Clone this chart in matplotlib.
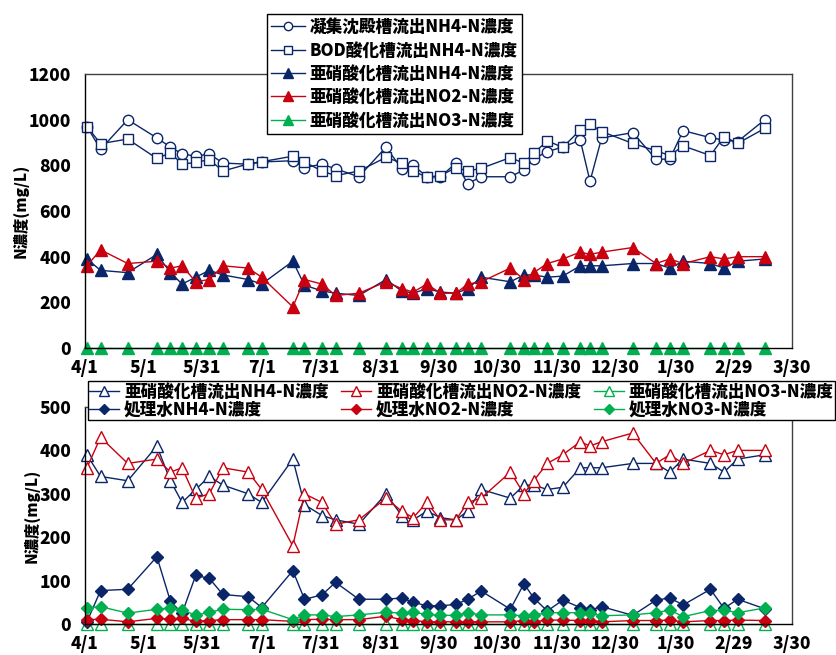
import matplotlib
matplotlib.use('Agg')
import matplotlib.pyplot as plt
from matplotlib.font_manager import FontProperties

# 採水日（4/1からの経過日数）
sample_day = [1, 8, 22, 37, 44, 50, 57, 64, 71, 84,
              91, 107, 113, 122, 129, 141, 155, 163, 169, 176,
              183, 191, 197, 204, 219, 226, 231, 238, 246, 255,
              260, 266, 282, 294, 301, 308, 322, 329, 336, 350]

# 目盛り
x_tick_day = [0, 30, 60, 91, 121, 152, 182, 212, 243, 273, 304, 334, 364]
x_tick_label = ['4/1', '5/1', '5/31', '7/1', '7/31', '8/31', '9/30',
                '10/30', '11/30', '12/30', '1/30', '2/29', '3/30']
y_top_ticks = [0, 200, 400, 600, 800, 1000, 1200]
y_bottom_ticks = [0, 100, 200, 300, 400, 500]

# 凝集沈殿槽流出 NH4-N
coag_nh4 = [970, 870, 1000, 920, 880, 850, 840, 850, 810, 805,
            815, 820, 790, 805, 785, 750, 880, 785, 800, 750,
            750, 810, 720, 750, 750, 780, 828, 860, 880, 910,
            730, 920, 943, 827, 827, 952, 921, 911, 904, 1000]
# BOD酸化槽流出 NH4-N
bod_nh4 = [970, 895, 915, 830, 855, 805, 813, 825, 775, 806,
           816, 840, 815, 775, 755, 775, 835, 810, 775, 748,
           755, 790, 775, 787, 834, 809, 853, 907, 879, 955,
           980, 948, 896, 864, 843, 885, 843, 926, 896, 962]
# 亜硝酸化槽流出
nit_nh4 = [390, 340, 330, 410, 330, 280, 310, 340, 320, 300,
           280, 380, 275, 250, 240, 230, 300, 250, 240, 260,
           245, 240, 260, 310, 290, 320, 320, 310, 315, 360,
           360, 360, 370, 370, 350, 380, 370, 350, 380, 390]
nit_no2 = [360, 430, 370, 380, 350, 360, 290, 300, 360, 350,
           310, 180, 300, 280, 230, 240, 290, 260, 245, 280,
           240, 240, 280, 290, 350, 300, 330, 370, 390, 420,
           410, 420, 440, 370, 390, 370, 400, 390, 400, 400]
nit_no3 = [0, 0, 0, 0, 0, 0, 0, 0, 0, 0,
           0, 0, 0, 0, 0, 0, 0, 0, 0, 0,
           0, 0, 0, 0, 0, 0, 0, 0, 0, 0,
           0, 0, 0, 0, 0, 0, 0, 0, 0, 0]
# 処理水
eff_nh4 = [5, 77, 80, 155, 52, 25, 112, 105, 68, 63,
           38, 123, 57, 67, 96, 57, 57, 60, 50, 42,
           42, 45, 57, 76, 34, 93, 60, 30, 55, 38,
           32, 40, 20, 55, 60, 44, 80, 36, 57, 35]
eff_no2 = [10, 11, 5, 13, 11, 13, 6, 8, 10, 10,
           10, 6, 10, 11, 10, 10, 18, 10, 8, 5,
           5, 5, 5, 5, 5, 8, 5, 9, 9, 8,
           8, 5, 8, 8, 9, 5, 8, 8, 9, 8]
eff_no3 = [37, 40, 25, 34, 37, 33, 20, 27, 34, 33,
           34, 10, 21, 21, 17, 21, 27, 25, 27, 22,
           20, 20, 26, 21, 21, 19, 21, 26, 26, 26,
           25, 19, 21, 26, 32, 17, 31, 32, 26, 37]

NAVY = '#0A2668'
RED = '#C8000F'
GREEN = '#00B050'

JP = 'Noto Sans CJK JP'
tick_font = FontProperties(family=JP, weight='black', size=12.5)
label_font = FontProperties(family=JP, weight='black', size=11)
legend_font = FontProperties(family=JP, weight='black', size=12)

W, H = 837, 655
fig = plt.figure(figsize=(W / 100, H / 100), dpi=100)


def px_axes(left, top, right, bottom):
    return fig.add_axes([left / W, 1 - bottom / H, (right - left) / W, (bottom - top) / H])


def style_axes(ax, yticks):
    ax.set_xlim(0, 364)
    ax.set_ylim(yticks[0], yticks[-1])
    ax.set_xticks(x_tick_day)
    ax.set_xticklabels(x_tick_label, fontproperties=tick_font)
    ax.set_yticks(yticks)
    ax.set_yticklabels([str(v) for v in yticks], fontproperties=tick_font)
    ax.tick_params(length=0, pad=10)
    ax.tick_params(axis='x', pad=8)
    for side in ['top', 'right']:
        ax.spines[side].set_color('#404040')
    for side in ['left', 'bottom']:
        ax.spines[side].set_color('black')
    for sp in ax.spines.values():
        sp.set_linewidth(1.0)
    ax.set_ylabel('N濃度(mg/L)', fontproperties=label_font, labelpad=0)


# ---- 上段 ----
ax1 = px_axes(85, 74, 792, 348)
style_axes(ax1, y_top_ticks)
common = dict(linewidth=1.0, clip_on=False)
l1 = ax1.plot(sample_day, coag_nh4, color=NAVY, marker='o', ms=7.5, mfc='white',
              mec=NAVY, mew=1.0, label='凝集沈殿槽流出NH4-N濃度', **common)[0]
l2 = ax1.plot(sample_day, bod_nh4, color=NAVY, marker='s', ms=6.5, mfc='white',
              mec=NAVY, mew=1.0, label='BOD酸化槽流出NH4-N濃度', **common)[0]
l3 = ax1.plot(sample_day, nit_nh4, color=NAVY, marker='^', ms=9, mfc=NAVY,
              mec=NAVY, label='亜硝酸化槽流出NH4-N濃度', **common)[0]
l4 = ax1.plot(sample_day, nit_no2, color=RED, marker='^', ms=9, mfc=RED,
              mec=RED, label='亜硝酸化槽流出NO2-N濃度', **common)[0]
l5 = ax1.plot(sample_day, nit_no3, color=GREEN, marker='^', ms=9, mfc=GREEN,
              mec=GREEN, label='亜硝酸化槽流出NO3-N濃度', **common)[0]
leg1 = ax1.legend(handles=[l1, l2, l3, l4, l5], loc='upper left',
                  bbox_to_anchor=(267 / W, 1 - 14 / H), bbox_transform=fig.transFigure,
                  borderaxespad=0, prop=legend_font, fancybox=False, framealpha=1,
                  edgecolor='black', handlelength=2.0, handletextpad=0.3,
                  labelspacing=0.32, borderpad=0.25, numpoints=1, markerscale=0.8)
leg1.get_frame().set_linewidth(1.0)
leg1.set_zorder(10)

# ---- 下段 ----
ax2 = px_axes(85, 407, 792, 624)
style_axes(ax2, y_bottom_ticks)
b1 = ax2.plot(sample_day, nit_nh4, color=NAVY, marker='^', ms=9, mfc='white',
              mec=NAVY, mew=1.0, label='亜硝酸化槽流出NH4-N濃度', **common)[0]
b2 = ax2.plot(sample_day, nit_no2, color=RED, marker='^', ms=9, mfc='white',
              mec=RED, mew=1.0, label='亜硝酸化槽流出NO2-N濃度', **common)[0]
b3 = ax2.plot(sample_day, nit_no3, color=GREEN, marker='^', ms=9, mfc='white',
              mec=GREEN, mew=1.0, label='亜硝酸化槽流出NO3-N濃度', **common)[0]
b4 = ax2.plot(sample_day, eff_nh4, color=NAVY, marker='D', ms=6.5, mfc=NAVY,
              mec=NAVY, label='処理水NH4-N濃度', **common)[0]
b5 = ax2.plot(sample_day, eff_no2, color=RED, marker='D', ms=6.5, mfc=RED,
              mec=RED, label='処理水NO2-N濃度', **common)[0]
b6 = ax2.plot(sample_day, eff_no3, color=GREEN, marker='D', ms=6.5, mfc=GREEN,
              mec=GREEN, label='処理水NO3-N濃度', **common)[0]
leg2 = ax2.legend(handles=[b1, b4, b2, b5, b3, b6], ncol=3, loc='upper left',
                  bbox_to_anchor=(88 / W, 1 - 381 / H), bbox_transform=fig.transFigure,
                  borderaxespad=0, prop=legend_font, fancybox=False, framealpha=1,
                  edgecolor='black', handlelength=1.8, handletextpad=0.3,
                  labelspacing=0.02, borderpad=0.08, columnspacing=0.75,
                  numpoints=1, markerscale=0.8)
leg2.get_frame().set_linewidth(1.0)
leg2.set_zorder(10)

fig.savefig('out.png', dpi=100)
plt.close(fig)
